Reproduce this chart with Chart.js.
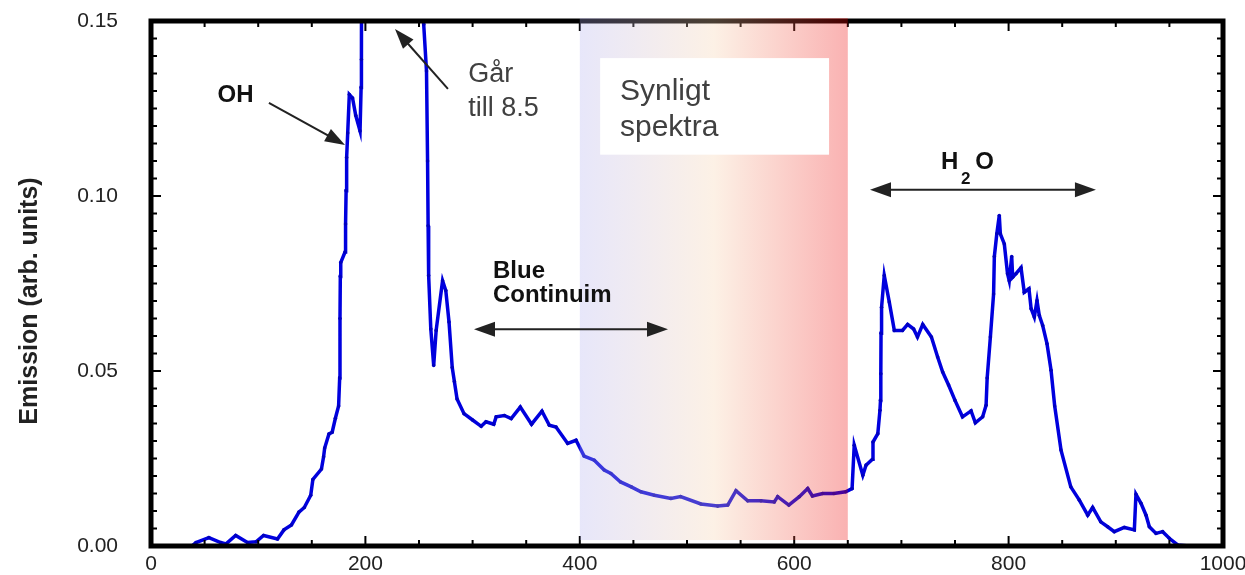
<!DOCTYPE html>
<html>
<head>
<meta charset="utf-8">
<script src="https://cdn.jsdelivr.net/npm/chart.js@4.4.0/dist/chart.umd.min.js"></script>
<style>
  html, body { margin: 0; padding: 0; background: #fff; }
  #wrap { width: 1245px; height: 575px; }
</style>
</head>
<body>
<div id="wrap"><canvas id="emissionChart" width="1245" height="575"></canvas></div>
<script>
'use strict';

/* --------------------------------------------------------------------------
   DATA
   -------------------------------------------------------------------------- */
const wavelength = [
    38, 42, 54, 65, 70, 79, 90, 98, 105, 118, 124, 131, 138, 143, 149, 151, 159, 161, 162, 166,
    169, 172, 175, 176, 176.3, 176.6, 177, 181, 181.5, 182, 182.5, 183.5, 185, 188, 191, 195,
    196, 196.3, 225, 254.4, 257, 258, 258.5, 259, 261, 263.7, 266, 272, 275, 278, 281, 283,
    285.5, 292, 300, 308, 312.5, 319.7, 322, 329.6, 336, 344.5, 355, 364.7, 371.6, 377.8,
    388.7, 396.5, 404, 413.5, 422.8, 429, 438, 448, 457, 469.5, 485, 494, 513, 528.6, 538,
    545.7, 556.6, 569, 581.4, 584.6, 595, 604.8, 612.6, 617, 626.6, 637, 648, 654, 656, 664,
    667, 673, 673.5, 678, 680, 680.5, 680.8, 681, 681.5, 684, 688.7, 693.4, 701, 705.8, 711.4,
    715, 719.9, 728, 733.8, 738.5, 744, 750, 757, 765, 769, 775.8, 779, 780, 783, 786, 786.7,
    789, 791.3, 792.3, 796, 799, 800.6, 802.9, 803.8, 806.9, 811.6, 814.6, 819, 821, 824,
    826.5, 828.6, 831.8, 835.8, 839.6, 843, 848.9, 858, 866, 873.8, 878.4, 886, 892.4, 898.6,
    907.9, 917.3, 918.8, 923.5, 928.2, 931.3, 937.5, 943.7, 949.9, 957.7, 968.5
];
const emission = [
    0.000, 0.001, 0.0024, 0.001, 0.0006, 0.003, 0.001, 0.0012, 0.003, 0.002, 0.0046, 0.006, 0.0097, 0.011, 0.0145, 0.019, 0.022, 0.0255, 0.028, 0.032,
    0.0325, 0.0365, 0.040, 0.048, 0.065, 0.077, 0.081, 0.084, 0.092, 0.1015, 0.111, 0.118, 0.129, 0.128, 0.123, 0.1186,
    0.131, 0.139, 8.5, 0.149, 0.1357, 0.110, 0.0915, 0.0773, 0.062, 0.0516, 0.0616, 0.0758, 0.073, 0.064, 0.051, 0.047,
    0.042, 0.0378, 0.036, 0.0342, 0.0355, 0.0348, 0.0369, 0.0373, 0.0364, 0.0397, 0.0348, 0.0385, 0.0345, 0.034,
    0.0293, 0.0302, 0.0257, 0.0245, 0.0217, 0.0207, 0.0183, 0.0169, 0.0155, 0.0145, 0.0136, 0.0141, 0.012, 0.0114, 0.0117,
    0.0158, 0.0129, 0.0129, 0.0126, 0.0141, 0.0117, 0.0141, 0.0164, 0.0143, 0.015, 0.015, 0.0155, 0.0164, 0.0288, 0.0202,
    0.0231, 0.0248, 0.0297, 0.0321, 0.0388, 0.0416, 0.0492, 0.0608, 0.0682, 0.0773, 0.0697, 0.0616, 0.0616, 0.0633, 0.062,
    0.0597, 0.0633, 0.0597, 0.054, 0.0497, 0.046, 0.0416, 0.0369, 0.0386, 0.0352, 0.0369, 0.0402, 0.048, 0.0597, 0.072, 0.0827,
    0.0892, 0.0944, 0.0892, 0.0863, 0.0778, 0.0758, 0.0827, 0.0768, 0.0778, 0.0795, 0.0725, 0.0735, 0.0678, 0.0654,
    0.0701, 0.0659, 0.063, 0.0578, 0.0502, 0.040, 0.0274, 0.0169, 0.0131, 0.0088, 0.011, 0.0069, 0.0055, 0.0041,
    0.0053, 0.0046, 0.0148, 0.0122, 0.0088, 0.0055, 0.0036, 0.0041, 0.0022, 0.0003, 0.000
];

const xRange = [0, 1000];
const yRange = [0, 0.15];
const visibleBand = [400, 650];          // "Synligt spektra" region

const FONT = '"Liberation Sans", Arial, sans-serif';
const LINE_BLUE = 'rgb(0,0,222)';

/* --------------------------------------------------------------------------
   HELPERS
   -------------------------------------------------------------------------- */
function arrowHead(ctx, x1, y1, x2, y2, len, half) {
    const a = Math.atan2(y2 - y1, x2 - x1);
    ctx.beginPath();
    ctx.moveTo(x2, y2);
    ctx.lineTo(x2 - len * Math.cos(a) + half * Math.sin(a), y2 - len * Math.sin(a) - half * Math.cos(a));
    ctx.lineTo(x2 - len * Math.cos(a) - half * Math.sin(a), y2 - len * Math.sin(a) + half * Math.cos(a));
    ctx.closePath();
    ctx.fill();
}

function arrow(ctx, x1, y1, x2, y2, both, len = 21, half = 7.5) {
    const a = Math.atan2(y2 - y1, x2 - x1);
    ctx.beginPath();
    ctx.moveTo(x1 + (both ? len * 0.8 * Math.cos(a) : 0), y1 + (both ? len * 0.8 * Math.sin(a) : 0));
    ctx.lineTo(x2 - len * 0.8 * Math.cos(a), y2 - len * 0.8 * Math.sin(a));
    ctx.stroke();
    arrowHead(ctx, x1, y1, x2, y2, len, half);
    if (both) arrowHead(ctx, x2, y2, x1, y1, len, half);
}

/* --------------------------------------------------------------------------
   PLUGIN — frame with inward ticks, visible band, annotations
   -------------------------------------------------------------------------- */
const decorPlugin = {
    id: 'decor',
    afterDatasetsDraw(chart) {
        const { ctx, chartArea: ca, scales: { x, y } } = chart;
        const X = v => x.getPixelForValue(v);
        const Y = v => y.getPixelForValue(v);

        ctx.save();
        // frame
        ctx.strokeStyle = '#000';
        ctx.lineWidth = 5;
        ctx.strokeRect(ca.left, ca.top, ca.right - ca.left, ca.bottom - ca.top);

        // inward ticks
        ctx.lineWidth = 2;
        ctx.beginPath();
        for (let v = 0; v <= 1000; v += 50) {
            const len = v % 200 === 0 ? 10 : 6;
            ctx.moveTo(X(v), ca.bottom); ctx.lineTo(X(v), ca.bottom - len);
            ctx.moveTo(X(v), ca.top); ctx.lineTo(X(v), ca.top + len);
        }
        for (let i = 0; i <= 30; i++) {
            const v = i * 0.005;
            const len = i % 10 === 0 ? 10 : 6;
            ctx.moveTo(ca.left, Y(v)); ctx.lineTo(ca.left + len, Y(v));
            ctx.moveTo(ca.right, Y(v)); ctx.lineTo(ca.right - len, Y(v));
        }
        ctx.stroke();

        // visible spectrum band, laid over curve and frame
        const bx0 = X(visibleBand[0]), bx1 = X(visibleBand[1]);
        const g = ctx.createLinearGradient(bx0, 0, bx1, 0);
        g.addColorStop(0, 'rgba(176,174,238,0.3)');
        g.addColorStop(0.5, 'rgba(246,208,170,0.3)');
        g.addColorStop(1, 'rgba(238,0,0,0.3)');
        ctx.fillStyle = g;
        ctx.fillRect(bx0, ca.top - 3, bx1 - bx0, Y(0.0017) - ca.top + 3);

        // white text box
        ctx.fillStyle = '#fff';
        ctx.fillRect(X(419), Y(0.1394), X(632.5) - X(419), Y(0.1118) - Y(0.1394));

        // grey texts
        ctx.fillStyle = '#404040';
        ctx.textAlign = 'left';
        ctx.textBaseline = 'alphabetic';
        ctx.font = '30px ' + FONT;
        ctx.fillText('Synligt', X(437.5), Y(0.1275));
        ctx.fillText('spektra', X(437.5), Y(0.1172));
        ctx.font = '27px ' + FONT;
        ctx.fillText('Går', X(296), Y(0.1326));
        ctx.fillText('till 8.5', X(296), Y(0.1229));

        // bold black labels
        ctx.fillStyle = '#111';
        ctx.font = 'bold 24px ' + FONT;
        ctx.fillText('OH', X(62), Y(0.1268));
        ctx.fillText('Blue', X(319), Y(0.0767));
        ctx.fillText('Continuim', X(319), Y(0.0696));
        ctx.fillText('H', X(737), Y(0.1078));
        ctx.fillText('O', X(769), Y(0.1078));
        ctx.font = 'bold 17px ' + FONT;
        ctx.fillText('2', X(755.5), Y(0.1035));

        // arrows
        ctx.strokeStyle = '#222';
        ctx.fillStyle = '#222';
        ctx.lineWidth = 2;
        arrow(ctx, X(110), Y(0.1266), X(181), Y(0.1146), false, 20, 7);
        arrow(ctx, X(277), Y(0.1306), X(227.6), Y(0.1477), false, 20, 7);
        arrow(ctx, X(301.3), Y(0.0619), X(482.3), Y(0.0619), true);
        arrow(ctx, X(670.7), Y(0.1018), X(881.5), Y(0.1018), true);

        // y axis title
        ctx.translate(30, 301);
        ctx.rotate(-Math.PI / 2);
        ctx.textAlign = 'center';
        ctx.textBaseline = 'middle';
        ctx.fillStyle = '#222';
        ctx.font = 'bold 25px ' + FONT;
        ctx.fillText('Emission (arb. units)', 0, 0);
        ctx.restore();
    },
};

/* --------------------------------------------------------------------------
   CHART
   -------------------------------------------------------------------------- */
const ctx = document.getElementById('emissionChart').getContext('2d');
new Chart(ctx, {
    type: 'line',
    data: {
        datasets: [{
            data: wavelength.map((w, i) => ({ x: w, y: emission[i] })),
            borderColor: LINE_BLUE,
            backgroundColor: LINE_BLUE,
            borderWidth: 3.5,
            pointRadius: 1.8,
            pointBorderWidth: 0,
            pointBackgroundColor: 'rgb(0,0,190)',
            tension: 0,
            fill: false,
            clip: 0,
        }],
    },
    options: {
        responsive: false,
        animation: false,
        layout: { autoPadding: false, padding: { top: 21, right: 22, left: 0, bottom: 0 } },
        plugins: { legend: { display: false }, tooltip: { enabled: false } },
        scales: {
            x: {
                type: 'linear', min: xRange[0], max: xRange[1],
                grid: { display: false, drawTicks: false }, border: { display: false },
                ticks: { stepSize: 200, padding: 6, color: '#222', font: { family: FONT, size: 21 }, callback: v => String(v) },
                afterFit: s => { s.height = 29; s.paddingLeft = 0; s.paddingRight = 0; },
            },
            y: {
                min: yRange[0], max: yRange[1],
                grid: { display: false, drawTicks: false }, border: { display: false },
                ticks: { stepSize: 0.05, padding: 33, color: '#222', font: { family: FONT, size: 21 }, callback: v => v.toFixed(2) },
                afterFit: s => { s.width = 151; s.paddingTop = 0; s.paddingBottom = 0; },
            },
        },
    },
    plugins: [decorPlugin],
});
</script>
</body>
</html>
